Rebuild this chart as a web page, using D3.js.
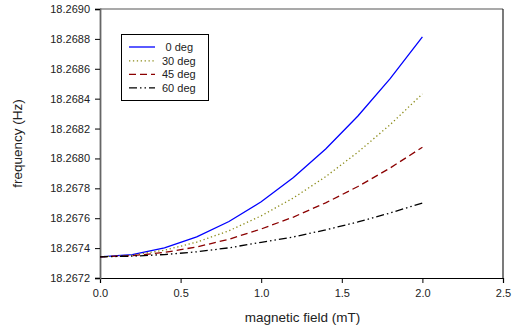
<!DOCTYPE html>
<html>
<head>
<meta charset="utf-8">
<script src="https://cdn.jsdelivr.net/npm/d3@7"></script>
<style>
  body { margin: 0; background: #fff; }
  text { font-family: "Liberation Sans", Arial, sans-serif; fill: #222; }
</style>
</head>
<body>
<svg id="chart" width="513" height="331"></svg>
<script>
// magnetic field (mT)
const fields = [0, 0.2, 0.4, 0.6, 0.8, 1.0, 1.2, 1.4, 1.6, 1.8, 2.0];

// frequency (Hz) per angle
const deg0 = [18.267342, 18.267357, 18.267401, 18.267475, 18.267578, 18.267710, 18.267872, 18.268063, 18.268284, 18.268534, 18.268814];
const deg30 = [18.267342, 18.267353, 18.267386, 18.267440, 18.267516, 18.267616, 18.267736, 18.267878, 18.268042, 18.268226, 18.268432];
const deg45 = [18.267342, 18.267349, 18.267371, 18.267408, 18.267459, 18.267528, 18.267608, 18.267703, 18.267812, 18.267936, 18.268075];
const deg60 = [18.267342, 18.267346, 18.267357, 18.267375, 18.267402, 18.267439, 18.267475, 18.267522, 18.267575, 18.267635, 18.267702];

const seriesNames = ['0 deg', '30 deg', '45 deg', '60 deg'];
const xTicks = [0, 0.5, 1.0, 1.5, 2.0, 2.5];
const yTicks = [18.2672, 18.2674, 18.2676, 18.2678, 18.2680, 18.2682, 18.2684, 18.2686, 18.2688, 18.2690];

const styles = [
  { color: '#0000ff', dash: null, width: 1.3 },
  { color: '#8c8c1a', dash: '1.3,2.6', width: 1.3 },
  { color: '#8b0000', dash: '7,4', width: 1.3 },
  { color: '#000000', dash: '8,3,1.5,3,1.5,3', width: 1.3 }
];

const margin = { left: 100, right: 10, top: 9, bottom: 53 };
const width = 513, height = 331;

const svg = d3.select('#chart');

const x = d3.scaleLinear().domain([0, 2.5]).range([margin.left, width - margin.right]);
const y = d3.scaleLinear().domain([18.2672, 18.2690]).range([height - margin.bottom, margin.top]);

// frame
svg.append('line')
  .attr('x1', x(0)).attr('x2', x(2.5)).attr('y1', y(18.2690)).attr('y2', y(18.2690))
  .attr('stroke', '#555').attr('stroke-width', 1.2);
svg.append('line')
  .attr('x1', x(2.5)).attr('x2', x(2.5)).attr('y1', y(18.2690)).attr('y2', y(18.2672))
  .attr('stroke', '#222').attr('stroke-width', 1.2);

// x axis
const xAxis = svg.append('g')
  .attr('transform', `translate(0,${y(18.2672)})`)
  .call(d3.axisBottom(x).tickValues(xTicks).tickFormat(d3.format('.1f')).tickSizeOuter(0).tickSize(5).tickPadding(6));
xAxis.select('.domain').attr('stroke', '#000').attr('stroke-width', 1.2);
xAxis.selectAll('.tick line').attr('stroke', '#000');
xAxis.selectAll('text').attr('font-size', 11).attr('fill', '#222')
  .attr('font-family', '"Liberation Sans", Arial, sans-serif');

// y axis
const yAxis = svg.append('g')
  .attr('transform', `translate(${x(0)},0)`)
  .call(d3.axisLeft(y).tickValues(yTicks).tickFormat(d3.format('.4f')).tickSizeOuter(0).tickSize(5).tickPadding(5));
yAxis.select('.domain').attr('stroke', '#666').attr('stroke-width', 1.8);
yAxis.selectAll('.tick line').attr('stroke', '#000');
yAxis.selectAll('text').attr('font-size', 11).attr('fill', '#222')
  .attr('font-family', '"Liberation Sans", Arial, sans-serif');

// axis titles
svg.append('text')
  .attr('x', (x(0) + x(2.5)) / 2 + 1).attr('y', 322)
  .attr('text-anchor', 'middle').attr('font-size', 13.5)
  .text('magnetic field (mT)');
svg.append('text')
  .attr('transform', `translate(22,${(y(18.2672) + y(18.2690)) / 2}) rotate(-90)`)
  .attr('text-anchor', 'middle').attr('font-size', 13.5)
  .text('frequency (Hz)');

// lines
const allSeries = [deg0, deg30, deg45, deg60];
const line = d3.line().x((d, i) => x(fields[i])).y(d => y(d));

allSeries.forEach((vals, i) => {
  svg.append('path')
    .datum(vals)
    .attr('d', line)
    .attr('fill', 'none')
    .attr('stroke', styles[i].color)
    .attr('stroke-width', styles[i].width)
    .attr('stroke-dasharray', styles[i].dash);
});

// legend
const legend = svg.append('g');
legend.append('rect')
  .attr('x', 121.5).attr('y', 34.5).attr('width', 87).attr('height', 66)
  .attr('fill', '#fff').attr('stroke', '#000').attr('stroke-width', 1);

const rowY = [47, 60.8, 74.3, 87.8];
seriesNames.forEach((name, i) => {
  legend.append('line')
    .attr('x1', 129).attr('x2', 155).attr('y1', rowY[i]).attr('y2', rowY[i])
    .attr('stroke', styles[i].color)
    .attr('stroke-width', styles[i].width)
    .attr('stroke-dasharray', styles[i].dash);
  legend.append('text')
    .attr('x', i === 0 ? 165.5 : 162).attr('y', rowY[i] + 4)
    .attr('font-size', 11)
    .text(name);
});
</script>
</body>
</html>
